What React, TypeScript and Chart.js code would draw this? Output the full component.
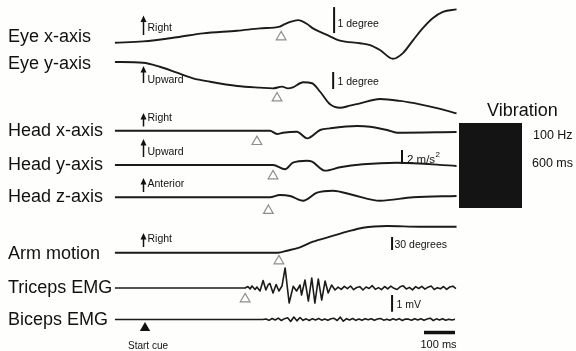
import { useEffect, useRef } from "react";
import { Chart, registerables } from "chart.js";

Chart.register(...registerables);

// ---------- data (time in ms from the start cue) ----------
const ROW_LABELS = ["Eye x-axis", "Eye y-axis", "Head x-axis", "Head y-axis", "Head z-axis", "Arm motion", "Triceps EMG", "Biceps EMG"];

const EYE_X_T = [-97, -6, 103, 187, 297, 371, 435, 445, 468, 494, 523, 542, 587, 629, 694, 726, 758, 800, 832, 865, 897, 929, 961, 1005];
const EYE_X_DEG = [0, 0.05, 0.21, 0.36, 0.46, 0.55, 0.62, 0.68, 0.8, 0.87, 0.72, 0.55, 0.3, 0.08, -0.02, -0.09, -0.28, -0.62, -0.4, 0.1, 0.57, 0.95, 1.19, 1.28];

const EYE_Y_T = [-97, -6, 48, 103, 155, 210, 297, 371, 413, 442, 461, 477, 510, 539, 565, 597, 629, 661, 694, 758, 823, 887, 952, 1005];
const EYE_Y_DEG = [0, -0.04, -0.28, -0.63, -0.96, -1.16, -1.41, -1.51, -1.55, -1.45, -1.55, -1.49, -1.19, -1.25, -1.75, -2.49, -2.69, -2.57, -2.43, -2.18, -2.29, -2.49, -2.76, -3.02];

const HEAD_X_T = [-97, 403, 426, 445, 490, 523, 565, 597, 684, 726, 781, 813, 1005];
const HEAD_X_MS2 = [0, 0, -0.47, -0.29, -0.14, -1.09, 0.1, 0.34, 0.67, 0.57, 0.1, -0.29, -0.19];

const HEAD_Y_T = [-97, 413, 452, 477, 523, 539, 581, 629, 703, 813, 1005];
const HEAD_Y_MS2 = [0, 0, -0.61, 0.33, 0.61, 0.47, -0.81, -0.33, 0.1, 0.33, -0.14];

const HEAD_Z_T = [-97, 403, 435, 468, 510, 555, 606, 671, 758, 865, 1005];
const HEAD_Z_MS2 = [0, 0, 0.33, 0.19, -0.49, 0.66, 0.94, 0.33, -0.49, 0, 0.19];

const ARM_T = [-97, 429, 458, 500, 542, 597, 652, 703, 781, 887, 1005];
const ARM_DEG = [0, 0, 4.6, 12.5, 25.4, 36.9, 48.5, 57.7, 61.6, 60, 60];

const TRICEPS_T = [-97, 316, 323, 332, 339, 345, 355, 361, 371, 381, 390, 397, 403, 413, 423, 432, 442, 452, 465, 478, 489, 500, 505, 516, 527, 538, 548, 559, 570, 581, 591, 602, 613];
const TRICEPS_MV = [0, 0, 0, 0.09, -0.06, 0.12, -0.09, 0.06, -0.18, 0.45, -0.12, 0.18, 0.27, -0.3, 0.21, -0.18, 0.12, 1.2, -0.9, 0.1, -0.18, 0.18, -0.42, 0.48, -0.78, 0.6, -0.9, 0.54, -0.72, 0.42, -0.3, 0.18, -0.12];
const TRICEPS_TAIL_START = 623;
const TRICEPS_TAIL_MV = [0.05, -0.08, 0.1, -0.04, 0.12, -0.1, 0.03, 0.08, -0.12, 0.06, -0.03, 0.14, -0.08, 0.02, -0.1, 0.09, -0.05, 0.11, -0.02, -0.09, 0.07, 0.13, -0.06, 0.04, -0.11, 0.08, -0.03, 0.1, -0.07, 0.05, 0.12, -0.09, 0.02, -0.05, 0.09, -0.08, 0.06, 0.11, -0.04];

const BICEPS_T = [-97, 380];
const BICEPS_MV = [0, 0];
const BICEPS_TAIL_START = 390;
const BICEPS_TAIL_MV = [0.03, -0.05, 0.06, -0.03, 0.08, -0.06, 0.05, 0.1, -0.12, 0.15, -0.08, 0.12, -0.05, 0.04, -0.06, 0.05, -0.03, 0.06, -0.04, 0.03, -0.05, 0.04, 0.07, -0.06, 0.14, -0.1, 0.05, -0.03, 0.06, -0.05, 0.03, -0.04, 0.05, -0.02, 0.04, -0.05, 0.03, 0.06, -0.04, 0.02, -0.05, 0.04, -0.03, 0.05, -0.06, 0.03, 0.02, -0.04, 0.05, -0.03, 0.04, -0.05, 0.03, 0.08, -0.06, 0.04, -0.03, 0.05, -0.04, 0.02, -0.03, 0.01];
const TAIL_STEP_MS = 10;

// onset markers (open triangles): time and level on each trace's own units
const ONSET_T = [439, 426, 361, 413, 398, 432, 323];
const ONSET_V = [0.22, -2.12, -1.57, -1.57, -1.89, -19.2, -0.66];

const START_CUE_T = 0;
const START_CUE_MV = -0.51;

// scale bars
const SCALEBAR_TRACE = ["eyeX", "eyeY", "headY", "arm", "tri"];
const SCALEBAR_T = [610, 607, 829, 797, 797];
const SCALEBAR_FROM = [0.37, -1.59, 0.14, 6.2, -1.42];
const SCALEBAR_SIZE = [1, 1, 2, 30, 1];
const TIMEBAR_T = [900, 1000];
const TIMEBAR_MV = -0.78;

// ---------- layout / style ----------
const W = 576;
const H = 351;
const PX_PER_MS = 0.31;
const CUE_PX = 145;
const INK = "#1b1b1b";
const BG = "#fefefc";
const FONT = "'Liberation Sans', Arial, Helvetica, sans-serif";

// baseline pixel & pixels per unit for each trace's own y scale
const TRACE_LAYOUT: Record<string, { base: number; gain: number }> = {
  eyeX: { base: 42.7, gain: 26 },
  eyeY: { base: 62, gain: 17 },
  headX: { base: 130.7, gain: 7 },
  headY: { base: 165, gain: 7 },
  headZ: { base: 197.3, gain: 7 },
  arm: { base: 252.7, gain: 13 / 30 },
  tri: { base: 288, gain: 16.7 },
  bic: { base: 319.5, gain: 16.7 },
};
const ONSET_TRACE = ["eyeX", "eyeY", "headX", "headY", "headZ", "arm", "tri"];

const LABEL_BASELINE = [42, 68.5, 136, 169.5, 202, 258.5, 293, 325];
const ARROWS = [
  { tip: 15.5, bottom: 35, text: "Right", ty: 31 },
  { tip: 66, bottom: 83, text: "Upward", ty: 83 },
  { tip: 113, bottom: 126.5, text: "Right", ty: 121 },
  { tip: 139, bottom: 157, text: "Upward", ty: 155 },
  { tip: 178, bottom: 192, text: "Anterior", ty: 187 },
  { tip: 233, bottom: 247, text: "Right", ty: 242 },
];

function pts(T: number[], V: number[]) {
  return T.map((t, i) => ({ x: t, y: V[i] }));
}
function gridPts(start: number, V: number[]) {
  return V.map((v, i) => ({ x: start + i * TAIL_STEP_MS, y: v }));
}

function traceDs(id: string, data: { x: number; y: number }[], smooth: boolean) {
  return {
    type: "line" as const,
    yAxisID: id,
    data,
    borderColor: INK,
    borderWidth: smooth ? 1.9 : 1.6,
    pointRadius: 0,
    fill: false,
    tension: 0,
    cubicInterpolationMode: smooth ? ("monotone" as const) : ("default" as const),
    borderJoinStyle: "round" as const,
  };
}

const annotPlugin = {
  id: "annot",
  beforeDraw(chart: any) {
    const ctx = chart.ctx;
    ctx.save();
    ctx.fillStyle = BG;
    ctx.fillRect(0, 0, chart.width, chart.height);
    ctx.restore();
  },
  afterDatasetsDraw(chart: any) {
    const ctx: CanvasRenderingContext2D = chart.ctx;
    ctx.save();
    // vibration block
    ctx.fillStyle = "#141414";
    ctx.fillRect(459, 123, 63, 85);

    ctx.fillStyle = "#111";
    ctx.textBaseline = "alphabetic";
    ctx.textAlign = "left";
    ctx.font = `18px ${FONT}`;
    ROW_LABELS.forEach((s, i) => ctx.fillText(s, 8, LABEL_BASELINE[i]));
    ctx.fillText("Vibration", 487, 116);

    ctx.font = `12.5px ${FONT}`;
    ctx.fillText("100 Hz", 533, 138.5);
    ctx.fillText("600 ms", 532, 166.5);

    // direction arrows
    ctx.strokeStyle = "#111";
    ctx.lineWidth = 1.5;
    ctx.font = `10.5px ${FONT}`;
    const ax = 143.5;
    ARROWS.forEach((a) => {
      ctx.beginPath();
      ctx.moveTo(ax, a.bottom);
      ctx.lineTo(ax, a.tip + 4);
      ctx.stroke();
      ctx.beginPath();
      ctx.moveTo(ax, a.tip);
      ctx.lineTo(ax - 3, a.tip + 6.5);
      ctx.lineTo(ax + 3, a.tip + 6.5);
      ctx.closePath();
      ctx.fill();
      ctx.fillText(a.text, 147.5, a.ty);
    });

    // scale bar labels
    ctx.font = `10.5px ${FONT}`;
    ctx.fillText("1 degree", 337.5, 27);
    ctx.fillText("1 degree", 337.5, 84.5);
    ctx.fillText("30 degrees", 394.5, 247.5);
    ctx.fillText("1 mV", 396.5, 307.5);
    ctx.font = `11.5px ${FONT}`;
    ctx.fillText("2 m/s", 407, 162.5);
    const w = ctx.measureText("2 m/s").width;
    ctx.font = `8px ${FONT}`;
    ctx.fillText("2", 407 + w + 0.5, 157);
    ctx.font = `11px ${FONT}`;
    ctx.fillText("100 ms", 420.5, 347.5);
    ctx.font = `10px ${FONT}`;
    ctx.fillText("Start cue", 128, 349);
    ctx.restore();
  },
};

function buildConfig(): any {
  const scales: any = {
    x: { type: "linear", display: false, min: -CUE_PX / PX_PER_MS, max: (W - CUE_PX) / PX_PER_MS },
  };
  Object.entries(TRACE_LAYOUT).forEach(([id, l]) => {
    scales[id] = {
      type: "linear",
      display: false,
      min: (l.base - H) / l.gain,
      max: l.base / l.gain,
    };
  });

  const datasets: any[] = [
    traceDs("eyeX", pts(EYE_X_T, EYE_X_DEG), true),
    traceDs("eyeY", pts(EYE_Y_T, EYE_Y_DEG), true),
    traceDs("headX", pts(HEAD_X_T, HEAD_X_MS2), true),
    traceDs("headY", pts(HEAD_Y_T, HEAD_Y_MS2), true),
    traceDs("headZ", pts(HEAD_Z_T, HEAD_Z_MS2), true),
    traceDs("arm", pts(ARM_T, ARM_DEG), true),
    traceDs("tri", [...pts(TRICEPS_T, TRICEPS_MV), ...gridPts(TRICEPS_TAIL_START, TRICEPS_TAIL_MV)], false),
    traceDs("bic", [...pts(BICEPS_T, BICEPS_MV), ...gridPts(BICEPS_TAIL_START, BICEPS_TAIL_MV)], false),
  ];

  ONSET_T.forEach((t, i) => {
    datasets.push({
      type: "line",
      yAxisID: ONSET_TRACE[i],
      data: [{ x: t, y: ONSET_V[i] }],
      showLine: false,
      pointStyle: "triangle",
      pointRadius: 5.6,
      pointBackgroundColor: "#ffffff",
      pointBorderColor: "#8e8e8e",
      pointBorderWidth: 1.2,
    });
  });

  datasets.push({
    type: "line",
    yAxisID: "bic",
    data: [{ x: START_CUE_T, y: START_CUE_MV }],
    showLine: false,
    pointStyle: "triangle",
    pointRadius: 6,
    pointBackgroundColor: "#111",
    pointBorderColor: "#111",
    pointBorderWidth: 0,
  });

  SCALEBAR_TRACE.forEach((id, i) => {
    datasets.push({
      type: "line",
      yAxisID: id,
      data: [
        { x: SCALEBAR_T[i], y: SCALEBAR_FROM[i] },
        { x: SCALEBAR_T[i], y: SCALEBAR_FROM[i] + SCALEBAR_SIZE[i] },
      ],
      borderColor: "#111",
      borderWidth: 2,
      pointRadius: 0,
      borderCapStyle: "butt",
    });
  });

  datasets.push({
    type: "line",
    yAxisID: "bic",
    data: [
      { x: TIMEBAR_T[0], y: TIMEBAR_MV },
      { x: TIMEBAR_T[1], y: TIMEBAR_MV },
    ],
    borderColor: "#111",
    borderWidth: 3.5,
    pointRadius: 0,
    borderCapStyle: "butt",
  });

  return {
    type: "line",
    data: { datasets },
    options: {
      animation: false,
      responsive: false,
      devicePixelRatio: 1,
      layout: { padding: 0, autoPadding: false },
      events: [],
      scales,
      plugins: { legend: { display: false }, tooltip: { enabled: false }, title: { display: false } },
    },
    plugins: [annotPlugin],
  };
}

export default function App() {
  const ref = useRef<HTMLCanvasElement>(null);
  useEffect(() => {
    document.body.style.margin = "0";
    document.body.style.background = BG;
    const chart = new Chart(ref.current as HTMLCanvasElement, buildConfig());
    return () => chart.destroy();
  }, []);
  return <canvas ref={ref} width={W} height={H} style={{ display: "block", width: W, height: H }} />;
}
